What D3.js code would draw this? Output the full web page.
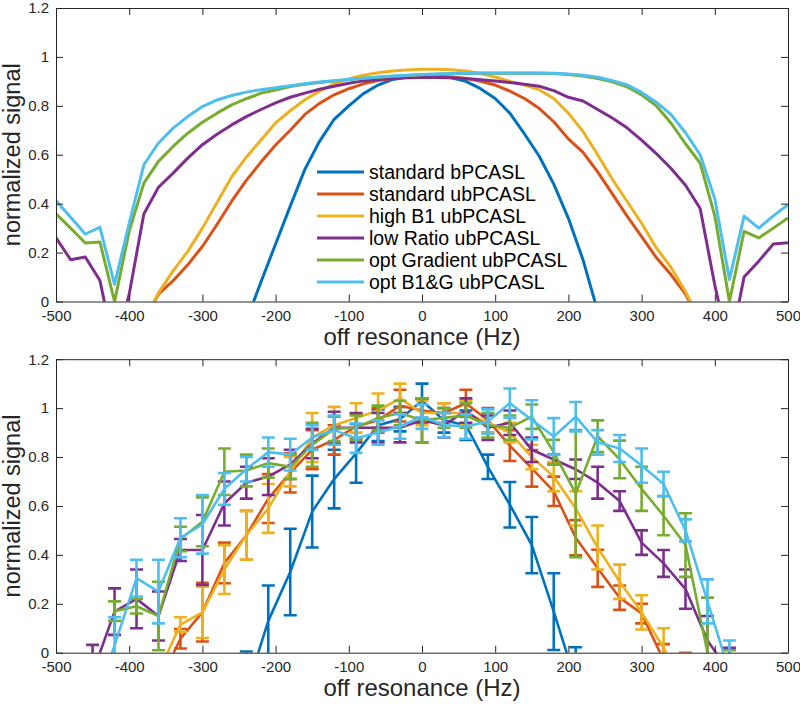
<!DOCTYPE html>
<meta charset="utf-8">
<style>
body { margin: 0; background: #fff; }
text { font-family: "Liberation Sans", Arial, Helvetica, sans-serif; fill: #262626; }
.axis path, .axis line { stroke: #262626; stroke-width: 1px; }
.axis text { font-size: 15px; font-family: "Liberation Sans", Arial, sans-serif; fill: #262626; }
.line { fill: none; stroke-width: 3px; stroke-linejoin: round; }
.mline { fill: none; stroke-width: 2.6px; stroke-linejoin: round; }
.bar { stroke-width: 2.6px; }
</style>
<body>
<script src="https://cdn.jsdelivr.net/npm/d3@7"></script>
<script>

// ---- top panel: simulated profiles, every 20 Hz ----
var simFreq = [-500, -480, -460, -440, -420, -400, -380, -360, -340, -320, -300, -280, -260,
  -240, -220, -200, -180, -160, -140, -120, -100, -80, -60, -40, -20, 0, 20, 40, 60, 80, 100,
  120, 140, 160, 180, 200, 220, 240, 260, 280, 300, 320, 340, 360, 380, 400, 420, 440, 460, 480, 500];

var simStdB = [null, null, null, null, null, null, null, null, null, null, null, null, null,
  -0.08, 0.08, 0.235, 0.39, 0.54, 0.655, 0.745, 0.80, 0.85, 0.885, 0.908, 0.918, 0.922, 0.922,
  0.915, 0.9, 0.87, 0.83, 0.77, 0.685, 0.595, 0.48, 0.34, 0.17, -0.04,
  null, null, null, null, null, null, null, null, null, null, null, null, null];
var simStdUb = [null, null, null, null, null, null, -0.08, 0.03, 0.085, 0.15, 0.225, 0.315, 0.41,
  0.495, 0.57, 0.64, 0.7, 0.765, 0.81, 0.845, 0.87, 0.89, 0.903, 0.912, 0.918, 0.92, 0.92,
  0.918, 0.912, 0.9, 0.885, 0.86, 0.83, 0.79, 0.735, 0.665, 0.61, 0.53, 0.44, 0.35, 0.265,
  0.18, 0.11, 0.03, -0.08, null, null, null, null, null, null];
var simHighB1 = [null, null, null, null, null, null, -0.08, 0.035, 0.125, 0.205, 0.30, 0.405, 0.51,
  0.59, 0.66, 0.73, 0.78, 0.825, 0.86, 0.89, 0.91, 0.925, 0.935, 0.942, 0.947, 0.95, 0.95,
  0.948, 0.942, 0.932, 0.918, 0.9, 0.885, 0.866, 0.83, 0.77, 0.695, 0.60, 0.50, 0.41, 0.32,
  0.22, 0.14, 0.04, -0.08, null, null, null, null, null, null];
var simLowRatio = [0.26, 0.171, 0.182, 0.086, -0.2, 0.03, 0.358, 0.467, 0.525, 0.586, 0.641, 0.684, 0.722,
  0.756, 0.785, 0.812, 0.835, 0.852, 0.868, 0.88, 0.892, 0.902, 0.908, 0.912, 0.915, 0.916, 0.916,
  0.915, 0.912, 0.907, 0.902, 0.895, 0.888, 0.88, 0.862, 0.835, 0.82, 0.785, 0.75, 0.71, 0.66,
  0.605, 0.545, 0.475, 0.38, 0.067, -0.2, 0.1, 0.165, 0.235, 0.24];
var simOptG = [0.358, 0.30, 0.239, 0.243, 0.0, 0.287, 0.484, 0.573, 0.634, 0.688, 0.733, 0.77, 0.804,
  0.829, 0.852, 0.865, 0.879, 0.888, 0.895, 0.902, 0.908, 0.913, 0.917, 0.921, 0.924, 0.927, 0.929,
  0.931, 0.932, 0.933, 0.933, 0.933, 0.933, 0.933, 0.932, 0.928, 0.922, 0.912, 0.898, 0.878, 0.845,
  0.8, 0.73, 0.645, 0.566, 0.35, 0.0, 0.287, 0.26, 0.3, 0.342];
var simOptB1G = [0.412, 0.344, 0.276, 0.303, 0.07, 0.32, 0.559, 0.648, 0.709, 0.756, 0.797, 0.824, 0.842,
  0.856, 0.866, 0.874, 0.882, 0.89, 0.897, 0.903, 0.908, 0.913, 0.918, 0.922, 0.925, 0.928, 0.93,
  0.932, 0.933, 0.934, 0.934, 0.934, 0.934, 0.934, 0.933, 0.93, 0.925, 0.917, 0.903, 0.886, 0.855,
  0.815, 0.765, 0.69, 0.6, 0.42, 0.09, 0.349, 0.30, 0.35, 0.396];

// ---- bottom panel: measured, every 30 Hz, mean and error ----
var measFreq = [-450, -420, -390, -360, -330, -300, -270, -240, -210, -180, -150, -120, -90, -60, -30,
  0, 30, 60, 90, 120, 150, 180, 210, 240, 270, 300, 330, 360, 390, 420];

var measStdB = [null, null, null, null, null, null, null, -0.155, 0.13, 0.33, 0.577, 0.71, 0.815, 0.93, 0.955,
  1.03, 0.95, 0.93, 0.76, 0.605, 0.44, 0.168, -0.118, null, null, null, null, null, null, null];
var errStdB = [null, null, null, null, null, null, null, 0.16, 0.145, 0.177, 0.147, 0.12, 0.12, 0.065, 0.05,
  0.07, 0.05, 0.06, 0.05, 0.093, 0.115, 0.157, 0.14, null, null, null, null, null, null, null];

var measStdUb = [null, null, null, -0.13, 0.057, 0.166, 0.367, 0.48, 0.63, 0.735, 0.83, 0.87, 0.925, 0.95, 1.01,
  0.99, 0.98, 1.02, 0.95, 0.847, 0.754, 0.66, 0.47, 0.345, 0.225, 0.16, -0.03, -0.1, null, null];
var errStdUb = [null, null, null, 0.05, 0.04, 0.12, 0.083, 0.1, 0.1, 0.08, 0.08, 0.06, 0.05, 0.05, 0.065,
  0.05, 0.04, 0.055, 0.05, 0.063, 0.075, 0.06, 0.072, 0.076, 0.05, 0.04, 0.065, 0.1, null, null];

var measHighB1 = [null, null, null, -0.08, 0.115, 0.165, 0.34, 0.48, 0.59, 0.74, 0.88, 0.93, 0.96, 0.99, 1.04,
  0.98, 0.98, 0.98, 0.94, 0.9, 0.8, 0.72, 0.59, 0.43, 0.29, 0.165, 0.02, -0.15, null, null];
var errHighB1 = [null, null, null, 0.03, 0.03, 0.105, 0.1, 0.1, 0.1, 0.06, 0.1, 0.075, 0.06, 0.07, 0.06,
  0.05, 0.04, 0.05, 0.04, 0.04, 0.05, 0.06, 0.07, 0.09, 0.07, 0.07, 0.08, 0.04, null, null];

var measLowRatio = [-0.084, 0.168, 0.22, 0.15, 0.42, 0.42, 0.61, 0.695, 0.72, 0.77, 0.855, 0.92, 0.92, 0.92, 0.92,
  0.95, 0.93, 0.99, 0.92, 0.94, 0.83, 0.79, 0.75, 0.695, 0.62, 0.45, 0.365, 0.26, 0.05, -0.08];
var errLowRatio = [0.116, 0.095, 0.12, 0.1, 0.045, 0.143, 0.09, 0.065, 0.075, 0.06, 0.06, 0.065, 0.06, 0.06, 0.06,
  0.09, 0.05, 0.05, 0.05, 0.05, 0.05, 0.02, 0.04, 0.065, 0.04, 0.05, 0.055, 0.08, 0.1, 0.1];

var measOptG = [null, 0.17, 0.19, 0.15, 0.465, 0.535, 0.74, 0.745, 0.775, 0.76, 0.85, 0.915, 0.92, 0.96, 0.98,
  0.95, 0.96, 0.97, 0.93, 0.92, 0.965, 0.82, 0.65, 0.885, 0.79, 0.67, 0.56, 0.44, 0.0, -0.1];
var errOptG = [null, 0.04, 0.03, 0.14, 0.05, 0.1, 0.095, 0.065, 0.06, 0.05, 0.09, 0.05, 0.05, 0.05, 0.05,
  0.09, 0.04, 0.05, 0.05, 0.05, 0.05, 0.05, 0.26, 0.065, 0.077, 0.09, 0.08, 0.13, 0.225, 0.11];

var measOptB1G = [-0.24, 0.03, 0.305, 0.25, 0.47, 0.525, 0.67, 0.75, 0.82, 0.81, 0.88, 0.91, 0.877, 0.9, 0.925,
  0.965, 0.931, 0.925, 0.945, 1.02, 0.952, 0.884, 0.965, 0.86, 0.835, 0.765, 0.69, 0.5, 0.21, -0.08];
var errOptB1G = [0.05, 0.115, 0.075, 0.13, 0.08, 0.12, 0.065, 0.05, 0.06, 0.065, 0.05, 0.06, 0.06, 0.05, 0.05,
  0.05, 0.05, 0.05, 0.05, 0.06, 0.08, 0.075, 0.06, 0.05, 0.055, 0.07, 0.05, 0.045, 0.09, 0.13];

var seriesNames = ["standard bPCASL", "standard ubPCASL", "high B1 ubPCASL",
  "low Ratio ubPCASL", "opt Gradient ubPCASL", "opt B1&G ubPCASL"];
var colors = ["#0072BD", "#D95319", "#EDB120", "#7E2F8E", "#77AC30", "#4DBEEE"];

var xTicks = [-500, -400, -300, -200, -100, 0, 100, 200, 300, 400, 500];
var xTickLabels = ["-500", "-400", "-300", "-200", "-100", "0", "100", "200", "300", "400", "500"];
var yTicks = [0, 0.2, 0.4, 0.6, 0.8, 1, 1.2];
var yTickLabels = ["0", "0.2", "0.4", "0.6", "0.8", "1", "1.2"];

var simSeries = [simStdB, simStdUb, simHighB1, simLowRatio, simOptG, simOptB1G];
var measSeries = [measStdB, measStdUb, measHighB1, measLowRatio, measOptG, measOptB1G];
var errSeries = [errStdB, errStdUb, errHighB1, errLowRatio, errOptG, errOptB1G];

// ---- layout ----
var left = 56,
    width = 732,
    height = 293.5,
    panelTops = [8, 359.2],
    tick = 7,
    capHalf = 6.5;

var svg = d3.select("body").append("svg")
    .attr("width", 800)
    .attr("height", 704);

// same scales for both panels (shifted with a transform)
var x = d3.scaleLinear().domain([-500, 500]).range([0, width]);
var y = d3.scaleLinear().domain([0, 1.2]).range([height, 0]);

function makePanel(idx) {
  var g = svg.append("g")
      .attr("transform", "translate(" + left + "," + panelTops[idx] + ")");

  g.append("clipPath").attr("id", "clip" + idx)
    .append("rect").attr("width", width).attr("height", height);

  return g;
}

function drawAxes(g, idx) {
  g.append("g").attr("class", "axis")
      .attr("transform", "translate(0," + height + ")")
      .call(d3.axisBottom(x).tickValues(xTicks)
        .tickFormat(function(d, i) { return xTickLabels[i]; })
        .tickSizeInner(-tick).tickSizeOuter(0).tickPadding(9));
  g.append("g").attr("class", "axis")
      .call(d3.axisTop(x).tickValues(xTicks).tickFormat("")
        .tickSizeInner(-tick).tickSizeOuter(0));
  g.append("g").attr("class", "axis")
      .call(d3.axisLeft(y).tickValues(yTicks)
        .tickFormat(function(d, i) { return yTickLabels[i]; })
        .tickSizeInner(-tick).tickSizeOuter(0).tickPadding(7));
  g.append("g").attr("class", "axis")
      .attr("transform", "translate(" + width + ",0)")
      .call(d3.axisRight(y).tickValues(yTicks).tickFormat("")
        .tickSizeInner(-tick).tickSizeOuter(0));

  // axis titles
  g.append("text")
      .attr("transform", "translate(" + (20 - left) + "," + (height / 2) + ") rotate(-90)")
      .attr("text-anchor", "middle")
      .style("font-size", "23.5px")
      .text("normalized signal");
  g.append("text")
      .attr("x", width / 2 + 0)
      .attr("y", height + 43)
      .attr("text-anchor", "middle")
      .style("font-size", "24px")
      .text("off resonance (Hz)");
}

// ---- top panel ----
var top1 = makePanel(0);

var simLine = d3.line()
    .defined(function(d) { return d.v != null; })
    .x(function(d) { return x(d.f); })
    .y(function(d) { return y(d.v); });

var simPlot = top1.append("g").attr("clip-path", "url(#clip0)");
simSeries.forEach(function(vals, k) {
  var pts = simFreq.map(function(f, i) { return {f: f, v: vals[i]}; });
  simPlot.append("path")
      .datum(pts)
      .attr("class", "line")
      .style("stroke", colors[k])
      .attr("d", simLine);
});

drawAxes(top1, 0);

// legend, no box
var legend = top1.append("g").attr("transform", "translate(261,164)");
var rows = legend.selectAll("g").data(seriesNames).enter().append("g")
    .attr("transform", function(d, i) { return "translate(0," + (i * 22) + ")"; });
rows.append("line")
    .attr("x1", 0).attr("x2", 47)
    .style("stroke", function(d, i) { return colors[i]; })
    .style("stroke-width", 3);
rows.append("text")
    .attr("x", 52)
    .attr("dy", "0.35em")
    .style("font-size", "19.5px")
    .style("fill", "#000")
    .text(function(d) { return d; });

// ---- bottom panel ----
var bot = makePanel(1);

var measLine = d3.line()
    .defined(function(d) { return d.v != null; })
    .x(function(d) { return x(d.f); })
    .y(function(d) { return y(d.v); });

var measPlot = bot.append("g").attr("clip-path", "url(#clip1)");
measSeries.forEach(function(vals, k) {
  var pts = measFreq.map(function(f, i) { return {f: f, v: vals[i], e: errSeries[k][i]}; })
      .filter(function(d) { return d.v != null; });
  var sg = measPlot.append("g").style("stroke", colors[k]);

  sg.append("path")
      .datum(pts)
      .attr("class", "mline")
      .style("stroke", colors[k])
      .attr("d", measLine);

  var bars = sg.selectAll(".eb").data(pts).enter().append("g").attr("class", "bar");
  bars.append("line")
      .attr("x1", function(d) { return x(d.f); })
      .attr("x2", function(d) { return x(d.f); })
      .attr("y1", function(d) { return y(d.v - d.e); })
      .attr("y2", function(d) { return y(d.v + d.e); });
  bars.append("line")
      .attr("x1", function(d) { return x(d.f) - capHalf; })
      .attr("x2", function(d) { return x(d.f) + capHalf; })
      .attr("y1", function(d) { return y(d.v + d.e); })
      .attr("y2", function(d) { return y(d.v + d.e); });
  bars.append("line")
      .attr("x1", function(d) { return x(d.f) - capHalf; })
      .attr("x2", function(d) { return x(d.f) + capHalf; })
      .attr("y1", function(d) { return y(d.v - d.e); })
      .attr("y2", function(d) { return y(d.v - d.e); });
});

drawAxes(bot, 1);

</script>
</body>
